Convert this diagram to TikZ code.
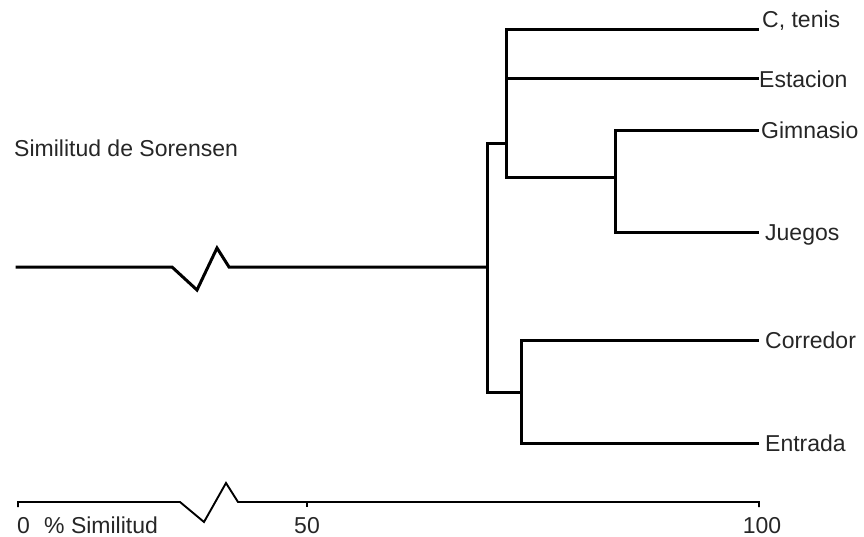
\documentclass[tikz,border=0pt]{standalone}
\usepackage{fontspec}
\setmainfont{Liberation Sans}
\begin{document}
\begin{tikzpicture}[x=1pt,y=-1pt,line join=miter,
  branch/.style={line width=3pt,line cap=rect},
  axisline/.style={line width=1.9pt},
  lbl/.style={font=\fontsize{23}{27}\selectfont,anchor=base west,inner sep=0pt,text=black!85},
  axlbl/.style={font=\fontsize{23}{27}\selectfont,anchor=base,inner sep=0pt,text=black!85}]
\useasboundingbox (0,0) rectangle (864,537);
% coordinates
\coordinate (r0) at (17,267);
\coordinate (z1) at (172,267);
\coordinate (z2) at (197,290);
\coordinate (z3) at (217,248);
\coordinate (z4) at (229,267);
\coordinate (rj) at (487,267);
\coordinate (top) at (487,144);
\coordinate (bot) at (487,392);
\coordinate (u) at (506,144);
\coordinate (uT) at (506,30);
\coordinate (uE) at (506,79);
\coordinate (uB) at (506,178);
\coordinate (g) at (615,178);
\coordinate (gT) at (615,131);
\coordinate (gB) at (615,233);
\coordinate (l) at (521,392);
\coordinate (lT) at (521,340);
\coordinate (lB) at (521,443);
\coordinate (e1) at (757,30);
\coordinate (e2) at (757,79);
\coordinate (e3) at (757,131);
\coordinate (e4) at (757,233);
\coordinate (e5) at (757,340);
\coordinate (e6) at (757,443);
% labels
\node[lbl] (n1) at (762,28) {C, tenis};
\node[lbl] (n2) at (759,88) {Estacion};
\node[lbl] (n3) at (761,139) {Gimnasio};
\node[lbl] (n4) at (765,241) {Juegos};
\node[lbl] (n5) at (765,348) {Corredor};
\node[lbl] (n6) at (765,451) {Entrada};
\node[lbl] (title) at (14,157) {Similitud de Sorensen};
% dendrogram
\draw[branch] (r0) -- (z1) -- (z2) -- (z3) -- (z4) -- (rj);
\draw[branch] (top) -- (bot);
\draw[branch] (top) -- (u);
\draw[branch] (bot) -- (l);
\draw[branch] (uT) -- (uB);
\draw[branch] (uT) -- (e1);
\draw[branch] (uE) -- (e2);
\draw[branch] (uB) -- (g);
\draw[branch] (gT) -- (gB);
\draw[branch] (gT) -- (e3);
\draw[branch] (gB) -- (e4);
\draw[branch] (lT) -- (lB);
\draw[branch] (lT) -- (e5);
\draw[branch] (lB) -- (e6);
% axis
\coordinate (a0) at (18,502);
\coordinate (a0t) at (18,507);
\coordinate (az1) at (180,502);
\coordinate (az2) at (204,522);
\coordinate (az3) at (226,483);
\coordinate (az4) at (238,502);
\coordinate (a50) at (307,502);
\coordinate (a50t) at (307,507);
\coordinate (a100) at (759,502);
\coordinate (a100t) at (759,507);
\draw[axisline] (a0t) -- (a0) -- (az1) -- (az2) -- (az3) -- (az4) -- (a100) -- (a100t);
\draw[axisline] (a50) -- (a50t);
\node[lbl] (t0) at (17,533) {0};
\node[lbl] (tpct) at (44,533) {\% Similitud};
\node[axlbl] (t50) at (307,533) {50};
\node[axlbl] (t100) at (762,533) {100};
\end{tikzpicture}
\end{document}
